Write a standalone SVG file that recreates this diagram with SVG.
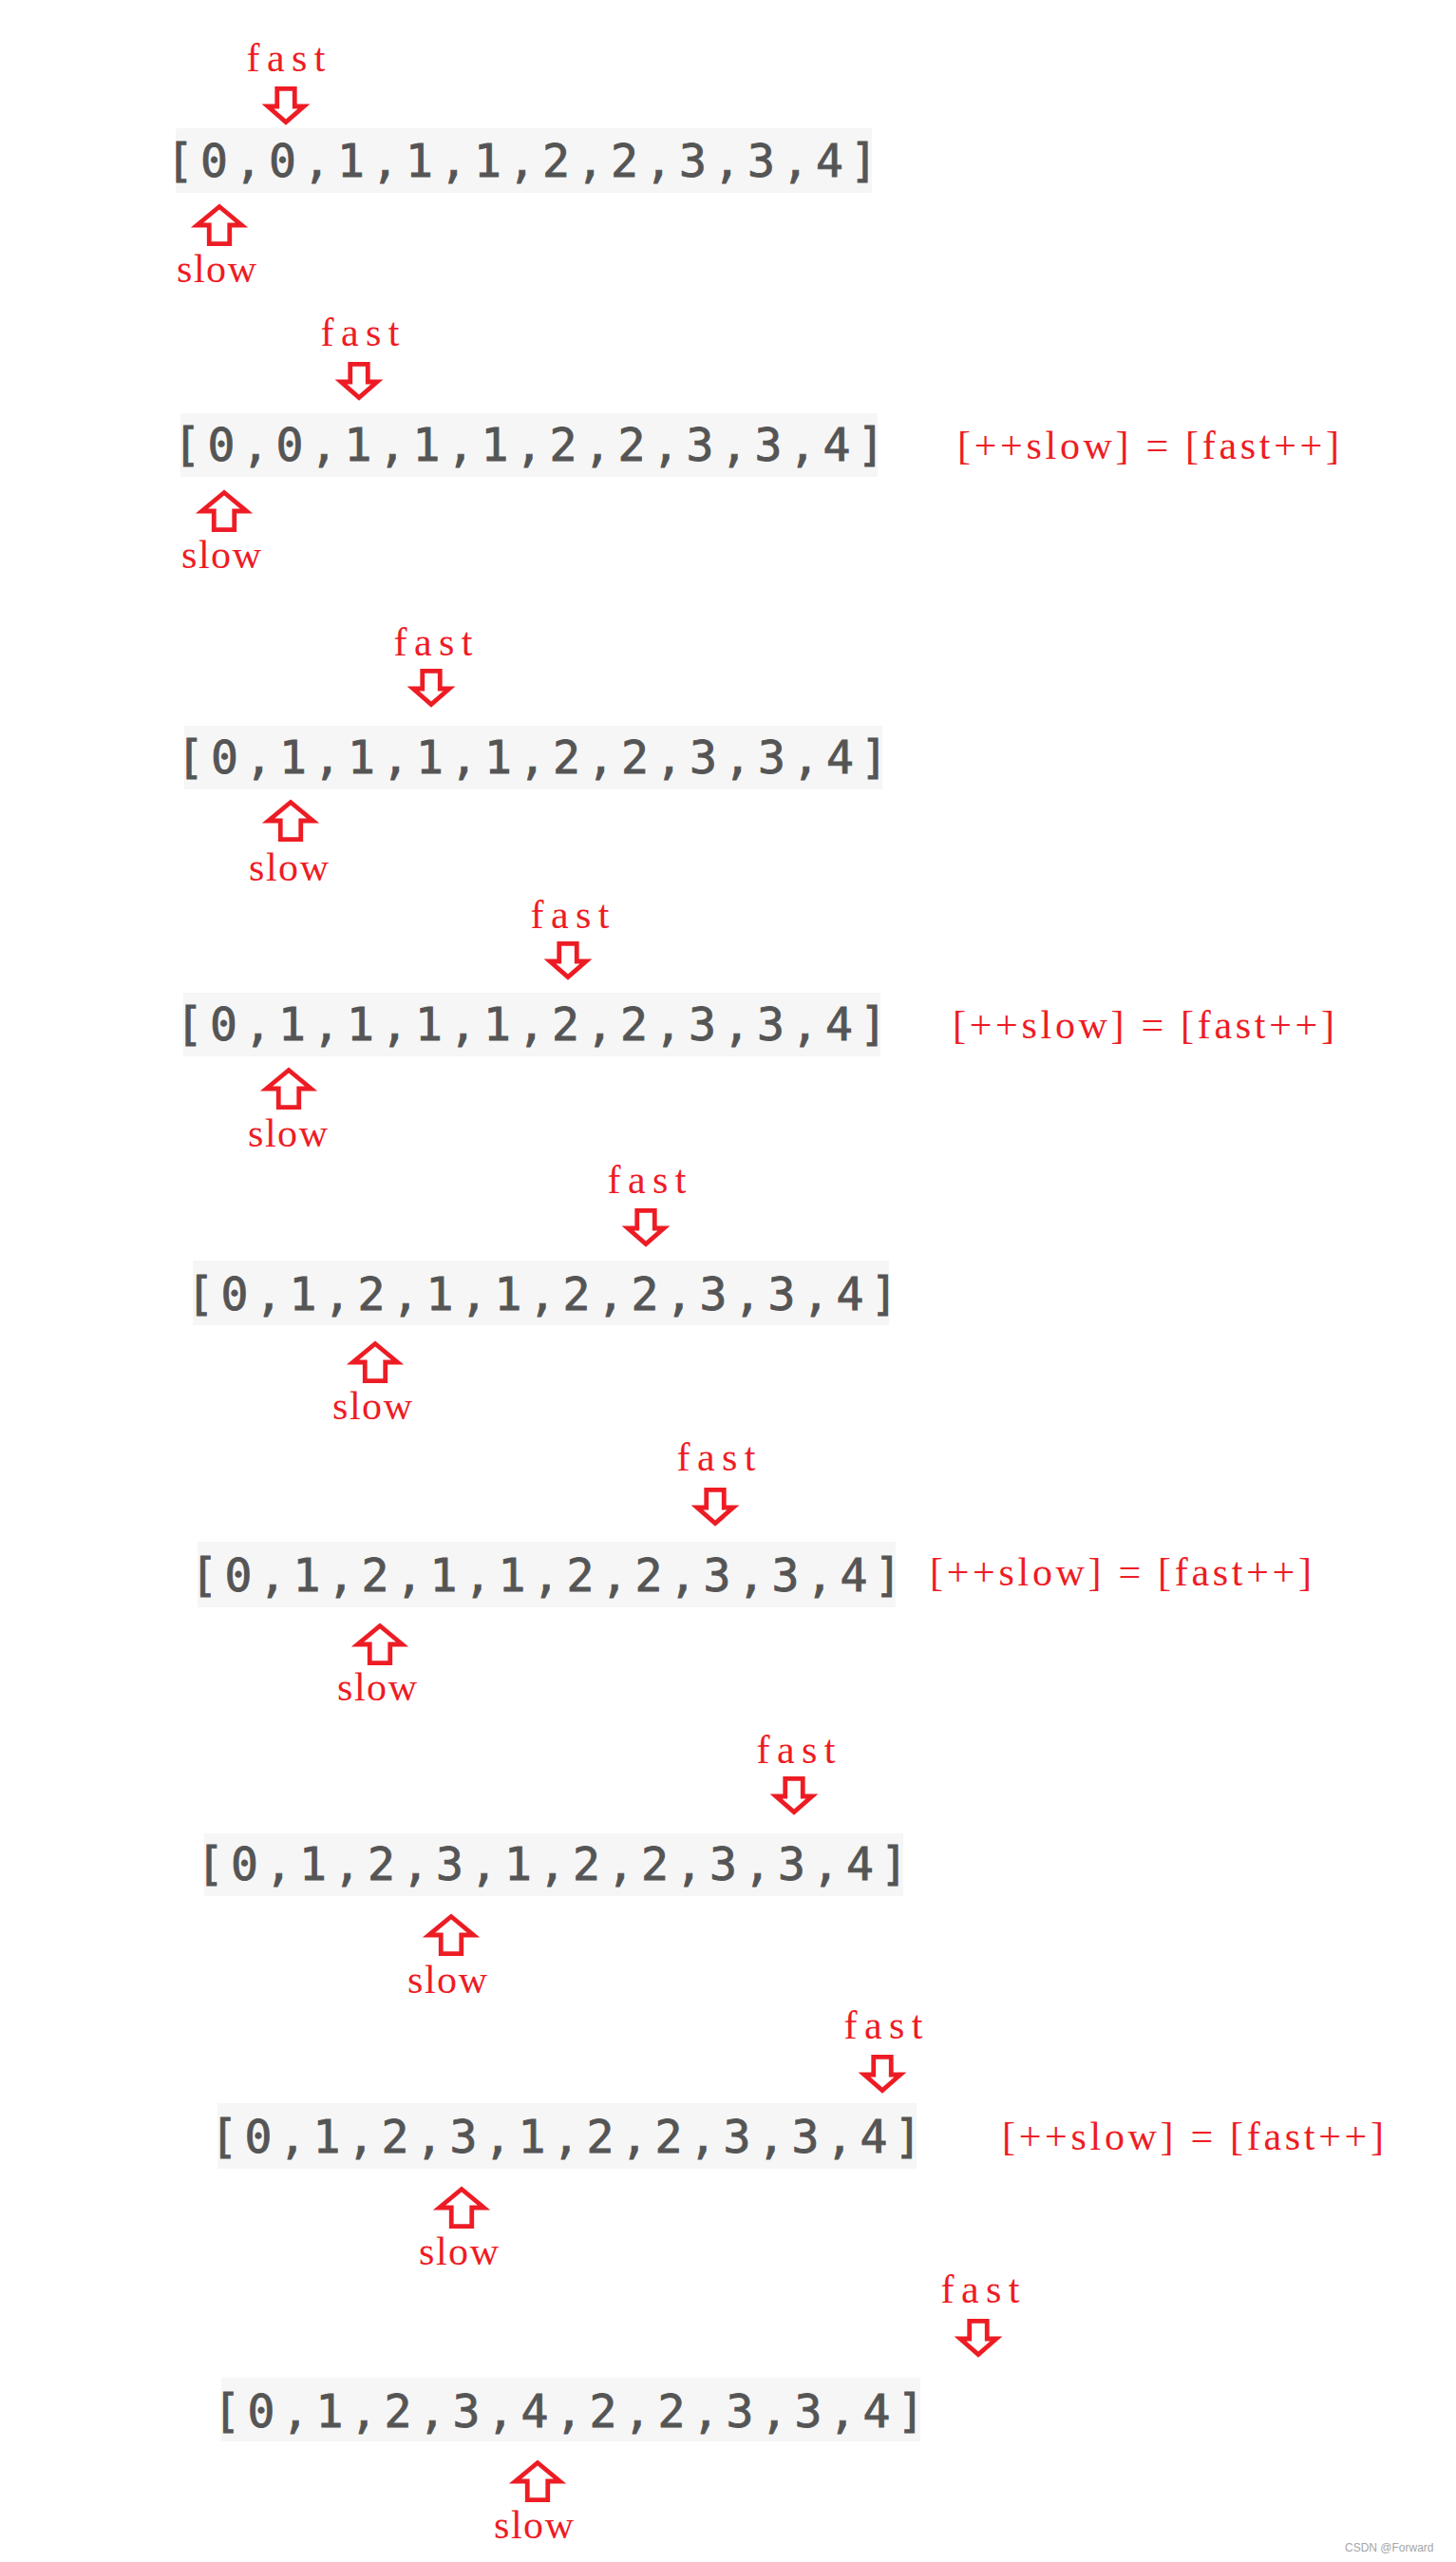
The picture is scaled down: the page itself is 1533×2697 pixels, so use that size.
<svg xmlns="http://www.w3.org/2000/svg" xmlns:xlink="http://www.w3.org/1999/xlink" width="1533" height="2697" viewBox="0 0 1533 2697">
<style>
.bg{fill:#f6f6f6}
.arr{font-family:"DejaVu Sans Mono","Liberation Mono",monospace;font-size:48px;fill:#555555;stroke:#555555;stroke-width:0.9;text-anchor:middle}
.lbl{font-family:"Liberation Serif","Times New Roman",serif;font-size:42px;fill:#ee1c25;text-anchor:middle}
.fml{font-family:"Liberation Serif","Times New Roman",serif;font-size:42px;fill:#ee1c25}
.ptr{fill:#ffffff;stroke:#ed1c24;stroke-width:4.8;stroke-linejoin:miter}
.wm{font-family:"Liberation Sans",Arial,sans-serif;font-size:12px;fill:#a6a6a6}
</style>
<defs>
<path id="down" class="ptr" d="M -9.25,2.4 H 9.25 V 21 H 19 L 0,37.5 L -19,21 H -9.25 Z"/>
<path id="up" class="ptr" d="M 0,3.5 L 23.5,23 H 10.75 V 42.6 H -10.75 V 23 H -23.5 Z"/>
</defs>
<rect width="1533" height="2697" fill="#ffffff"/>

<g id="step1">
<rect class="bg" x="185" y="135" width="733" height="68"/>
<text class="arr" transform="translate(189.5,186)" x="0 36 72 108 144 180 216 252 288 324 360 396 432 468 504 540 576 612 648 684 720" y="0">[0,0,1,1,1,2,2,3,3,4]</text>
<text class="lbl" x="301" y="75" textLength="83">fast</text>
<text class="lbl" x="228" y="297" textLength="84">slow</text>
</g>

<g id="step2">
<rect class="bg" x="190" y="435" width="734" height="67"/>
<text class="arr" transform="translate(197,485)" x="0 36 72 108 144 180 216 252 288 324 360 396 432 468 504 540 576 612 648 684 720" y="0">[0,0,1,1,1,2,2,3,3,4]</text>
<text class="lbl" x="379" y="364" textLength="83">fast</text>
<text class="lbl" x="233" y="598" textLength="84">slow</text>
<text class="fml" x="1008" y="483" textLength="402">[++slow] = [fast++]</text>
</g>

<g id="step3">
<rect class="bg" x="194" y="764" width="735" height="67"/>
<text class="arr" transform="translate(200.5,814)" x="0 36 72 108 144 180 216 252 288 324 360 396 432 468 504 540 576 612 648 684 720" y="0">[0,1,1,1,1,2,2,3,3,4]</text>
<text class="lbl" x="456" y="690" textLength="83">fast</text>
<text class="lbl" x="304" y="927" textLength="84">slow</text>
</g>

<g id="step4">
<rect class="bg" x="193" y="1045" width="734" height="67"/>
<text class="arr" transform="translate(199.5,1095)" x="0 36 72 108 144 180 216 252 288 324 360 396 432 468 504 540 576 612 648 684 720" y="0">[0,1,1,1,1,2,2,3,3,4]</text>
<text class="lbl" x="600" y="977" textLength="83">fast</text>
<text class="lbl" x="303" y="1207" textLength="84">slow</text>
<text class="fml" x="1003" y="1093" textLength="402">[++slow] = [fast++]</text>
</g>

<g id="step5">
<rect class="bg" x="203" y="1327" width="733" height="68"/>
<text class="arr" transform="translate(211,1379)" x="0 36 72 108 144 180 216 252 288 324 360 396 432 468 504 540 576 612 648 684 720" y="0">[0,1,2,1,1,2,2,3,3,4]</text>
<text class="lbl" x="681" y="1256" textLength="83">fast</text>
<text class="lbl" x="392" y="1494" textLength="84">slow</text>
</g>

<g id="step6">
<rect class="bg" x="208" y="1623" width="735" height="69"/>
<text class="arr" transform="translate(215,1675)" x="0 36 72 108 144 180 216 252 288 324 360 396 432 468 504 540 576 612 648 684 720" y="0">[0,1,2,1,1,2,2,3,3,4]</text>
<text class="lbl" x="754" y="1548" textLength="83">fast</text>
<text class="lbl" x="397" y="1790" textLength="84">slow</text>
<text class="fml" x="979" y="1669" textLength="402">[++slow] = [fast++]</text>
</g>

<g id="step7">
<rect class="bg" x="215" y="1930" width="736" height="66"/>
<text class="arr" transform="translate(221.5,1979)" x="0 36 72 108 144 180 216 252 288 324 360 396 432 468 504 540 576 612 648 684 720" y="0">[0,1,2,3,1,2,2,3,3,4]</text>
<text class="lbl" x="838" y="1856" textLength="83">fast</text>
<text class="lbl" x="471" y="2098" textLength="84">slow</text>
</g>

<g id="step8">
<rect class="bg" x="229" y="2214" width="736" height="69"/>
<text class="arr" transform="translate(236,2266)" x="0 36 72 108 144 180 216 252 288 324 360 396 432 468 504 540 576 612 648 684 720" y="0">[0,1,2,3,1,2,2,3,3,4]</text>
<text class="lbl" x="930" y="2146" textLength="83">fast</text>
<text class="lbl" x="483" y="2384" textLength="84">slow</text>
<text class="fml" x="1055" y="2263" textLength="402">[++slow] = [fast++]</text>
</g>

<g id="step9">
<rect class="bg" x="233" y="2503" width="736" height="67"/>
<text class="arr" transform="translate(239,2555)" x="0 36 72 108 144 180 216 252 288 324 360 396 432 468 504 540 576 612 648 684 720" y="0">[0,1,2,3,4,2,2,3,3,4]</text>
<text class="lbl" x="1032" y="2424" textLength="83">fast</text>
<text class="lbl" x="562" y="2672" textLength="84">slow</text>
</g>

<g id="connectors">
<use xlink:href="#down" x="301" y="91"/>
<use xlink:href="#up" x="231" y="214"/>
<use xlink:href="#down" x="378" y="381"/>
<use xlink:href="#up" x="236" y="515"/>
<use xlink:href="#down" x="454" y="704"/>
<use xlink:href="#up" x="306" y="841"/>
<use xlink:href="#down" x="598" y="991"/>
<use xlink:href="#up" x="304" y="1123"/>
<use xlink:href="#down" x="680" y="1272"/>
<use xlink:href="#up" x="395" y="1411"/>
<use xlink:href="#down" x="753" y="1566"/>
<use xlink:href="#up" x="400" y="1708"/>
<use xlink:href="#down" x="836" y="1870"/>
<use xlink:href="#up" x="475" y="2014"/>
<use xlink:href="#down" x="929" y="2163"/>
<use xlink:href="#up" x="486" y="2301"/>
<use xlink:href="#down" x="1030" y="2441"/>
<use xlink:href="#up" x="566" y="2589"/>
</g>

<g id="watermark">
<text class="wm" x="1416" y="2686">CSDN @Forward</text>
</g>
</svg>
